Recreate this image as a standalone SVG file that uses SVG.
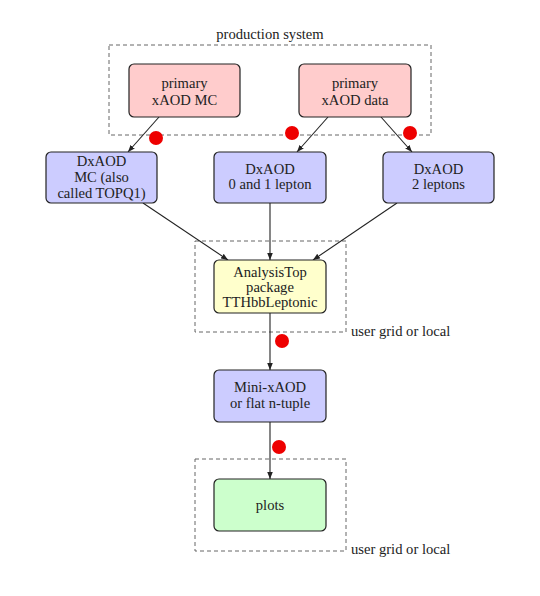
<svg xmlns="http://www.w3.org/2000/svg" width="540" height="596" viewBox="0 0 540 596">
<style>
text{font-family:"Liberation Serif","DejaVu Serif",serif;font-size:14.6px;fill:#222;text-anchor:middle}
.lbl{text-anchor:start}
.node{stroke:#222;stroke-width:1.2}
.red{fill:#ffcccc}.blue{fill:#ccccff}.yel{fill:#ffffcc}.grn{fill:#ccffcc}
.box{fill:none;stroke:#666;stroke-width:1;stroke-dasharray:4 3}
.edge{stroke:#222;stroke-width:1.1;fill:none;marker-end:url(#ah)}
.dot{fill:#ee0000}
</style>
<defs>
<marker id="ah" viewBox="0 0 10 10" refX="10" refY="5" markerWidth="7" markerHeight="7" orient="auto" markerUnits="userSpaceOnUse">
<path d="M0,1 L10,5 L0,9 z" fill="#222"/>
</marker>
</defs>
<rect width="540" height="596" fill="#fff"/>
<g id="groups">
<rect class="box" x="109" y="45" width="322" height="90"/>
<text x="270" y="39">production system</text>
<rect class="box" x="195" y="241" width="151" height="91"/>
<text class="lbl" x="351" y="336">user grid or local</text>
<rect class="box" x="195" y="459" width="151" height="92"/>
<text class="lbl" x="351" y="554">user grid or local</text>
</g>
<g id="connectors">
<line class="edge" x1="159" y1="117" x2="128" y2="152"/>
<line class="edge" x1="328" y1="117" x2="297" y2="152"/>
<line class="edge" x1="381" y1="117" x2="412" y2="152"/>
<line class="edge" x1="143" y1="203" x2="228" y2="260"/>
<line class="edge" x1="270" y1="203" x2="270" y2="260"/>
<line class="edge" x1="397" y1="203" x2="313" y2="260"/>
<line class="edge" x1="270" y1="313" x2="270" y2="370"/>
<line class="edge" x1="270" y1="422" x2="270" y2="479"/>
</g>
<g id="markers">
<circle class="dot" cx="156" cy="138" r="7"/>
<circle class="dot" cx="292" cy="133" r="7"/>
<circle class="dot" cx="410" cy="133" r="7"/>
<circle class="dot" cx="282" cy="341" r="7"/>
<circle class="dot" cx="279" cy="447" r="7"/>
</g>
<g id="primaryMC">
<rect class="node red" x="129" y="64" width="111" height="53" rx="5"/>
<text x="184.5" y="88">primary</text>
<text x="184.5" y="105">xAOD MC</text>
</g>
<g id="primaryData">
<rect class="node red" x="299" y="64" width="112" height="53" rx="5"/>
<text x="355" y="88">primary</text>
<text x="355" y="105">xAOD data</text>
</g>
<g id="dxaodMC">
<rect class="node blue" x="46" y="152" width="111" height="51" rx="5"/>
<text x="101.5" y="166">DxAOD</text>
<text x="101.5" y="182">MC (also</text>
<text x="101.5" y="198">called TOPQ1)</text>
</g>
<g id="dxaod01">
<rect class="node blue" x="214" y="152" width="112" height="51" rx="5"/>
<text x="270" y="174">DxAOD</text>
<text x="270" y="189">0 and 1 lepton</text>
</g>
<g id="dxaod2">
<rect class="node blue" x="383" y="152" width="111" height="51" rx="5"/>
<text x="438.5" y="174">DxAOD</text>
<text x="438.5" y="189">2 leptons</text>
</g>
<g id="analysisTop">
<rect class="node yel" x="214" y="260" width="112" height="53" rx="5"/>
<text x="270" y="277">AnalysisTop</text>
<text x="270" y="292">package</text>
<text x="270" y="307">TTHbbLeptonic</text>
</g>
<g id="mini">
<rect class="node blue" x="214" y="370" width="112" height="52" rx="5"/>
<text x="270" y="392">Mini-xAOD</text>
<text x="270" y="408">or flat n-tuple</text>
</g>
<g id="plots">
<rect class="node grn" x="214" y="479" width="112" height="52" rx="5"/>
<text x="270" y="510">plots</text>
</g>
</svg>
